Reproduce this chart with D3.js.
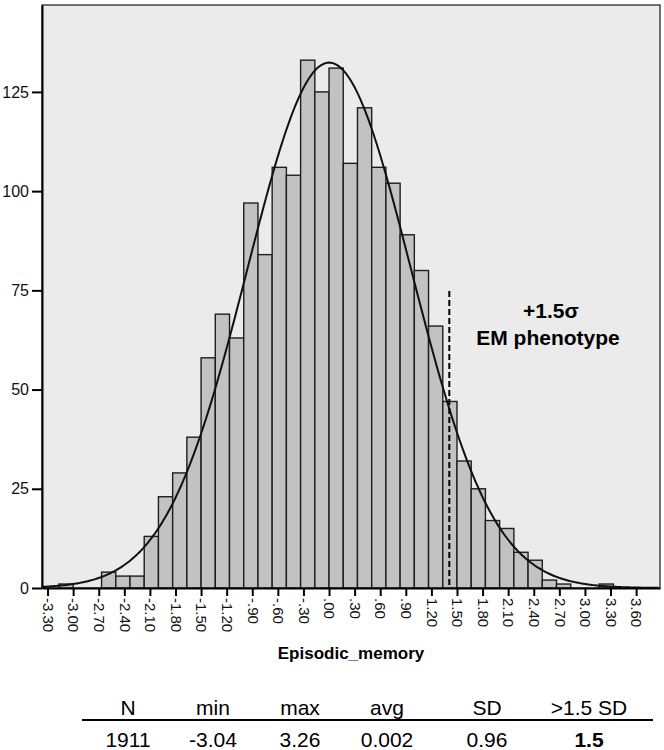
<!DOCTYPE html>
<html>
<head>
<meta charset="utf-8">
<script src="https://cdn.jsdelivr.net/npm/d3@7"></script>
<style>
  body { margin: 0; background: #fff; }
  svg { display: block; font-family: "Liberation Sans", Arial, sans-serif; }
</style>
</head>
<body>
<svg id="chart" width="664" height="750"></svg>
<script>
/**
 * Episodic memory histogram
 */

// bins are 1/6 wide, lower edges
var binLower = [-3.1667, -3.0, -2.8333, -2.6667, -2.5, -2.3333, -2.1667, -2.0, -1.8333,
  -1.6667, -1.5, -1.3333, -1.1667, -1.0, -0.8333, -0.6667, -0.5, -0.3333, -0.1667,
  0.0, 0.1667, 0.3333, 0.5, 0.6667, 0.8333, 1.0, 1.1667, 1.3333, 1.5, 1.6667,
  1.8333, 2.0, 2.1667, 2.3333, 2.5, 2.6667, 2.8333, 3.0, 3.1667];
var binWidth = 0.1667;
var counts = [1, 0, 0, 4, 3, 3, 13, 23, 29,
  38, 58, 69, 63, 97, 84, 106, 104, 133, 125,
  131, 107, 121, 106, 102, 89, 80, 66, 47, 32, 25,
  17, 15, 9, 7, 2, 1, 0, 0, 1];

var xTickValues = [-3.3, -3.0, -2.7, -2.4, -2.1, -1.8, -1.5, -1.2, -0.9, -0.6, -0.3,
  0.0, 0.3, 0.6, 0.9, 1.2, 1.5, 1.8, 2.1, 2.4, 2.7, 3.0, 3.3, 3.6];
var xTickLabels = ['-3.30', '-3.00', '-2.70', '-2.40', '-2.10', '-1.80', '-1.50', '-1.20',
  '-.90', '-.60', '-.30', '.00', '.30', '.60', '.90', '1.20', '1.50', '1.80', '2.10',
  '2.40', '2.70', '3.00', '3.30', '3.60'];
var yTickValues = [0, 25, 50, 75, 100, 125];

// summary table
var tableHeaders = ['N', 'min', 'max', 'avg', 'SD', '>1.5 SD'];
var tableValues = ['1911', '-3.04', '3.26', '0.002', '0.96', '1.5'];

// normal curve parameters (from the table)
var nTotal = 1911;
var mean = 0.002;
var sd = 0.96;
var cutoff = 1.41;

var svg = d3.select('#chart');
var plotL = 42, plotR = 660, plotT = 5, plotB = 588;

var x = d3.scaleLinear().domain([-3.365, 3.88]).range([plotL, plotR]);
var y = d3.scaleLinear().domain([0, 146.9]).range([plotB, plotT]);

svg.append('rect')
    .attr('x', plotL).attr('y', plotT)
    .attr('width', plotR - plotL).attr('height', plotB - plotT)
    .attr('fill', '#ebebeb')
    .attr('stroke', '#444')
    .attr('stroke-width', 1.5);

// bars
var bins = binLower.map(function(b, i) { return {x0: b, n: counts[i]}; })
    .filter(function(d) { return d.n > 0; });

svg.append('g').selectAll('rect')
    .data(bins)
  .enter().append('rect')
    .attr('x', function(d) { return x(d.x0); })
    .attr('y', function(d) { return y(d.n); })
    .attr('width', function(d) { return x(d.x0 + binWidth) - x(d.x0); })
    .attr('height', function(d) { return y(0) - y(d.n); })
    .attr('fill', '#c2c2c2')
    .attr('stroke', '#1e1e1e')
    .attr('stroke-width', 1.4);

// normal curve
var pdf = function(v) {
  return nTotal * binWidth * Math.exp(-0.5 * Math.pow((v - mean) / sd, 2)) / (sd * Math.sqrt(2 * Math.PI));
};
var curvePts = d3.range(-3.36, 3.88, 0.02);
svg.append('path')
    .datum(curvePts)
    .attr('fill', 'none')
    .attr('stroke', '#111')
    .attr('stroke-width', 2)
    .attr('d', d3.line()
      .x(function(d) { return x(d); })
      .y(function(d) { return y(pdf(d)); }));

// cutoff line
svg.append('line')
    .attr('x1', x(cutoff)).attr('x2', x(cutoff))
    .attr('y1', 291).attr('y2', plotB)
    .attr('stroke', '#000')
    .attr('stroke-width', 2)
    .attr('stroke-dasharray', '6,3');

svg.append('text')
    .attr('x', 551).attr('y', 318)
    .attr('text-anchor', 'middle')
    .attr('font-size', 21).attr('font-weight', 'bold')
    .text('+1.5\u03c3');
svg.append('text')
    .attr('x', 548).attr('y', 345)
    .attr('text-anchor', 'middle')
    .attr('font-size', 21).attr('font-weight', 'bold')
    .text('EM phenotype');

// axes
var yAxis = svg.append('g')
    .attr('transform', 'translate(' + plotL + ',0)')
    .call(d3.axisLeft(y).tickValues(yTickValues).tickSize(10).tickPadding(3).tickSizeOuter(0));
yAxis.select('.domain').attr('stroke', '#000').attr('stroke-width', 2);
yAxis.selectAll('.tick line').attr('stroke-width', 2);
yAxis.selectAll('.tick text').attr('font-size', 16).attr('fill', '#111');

var xAxis = svg.append('g')
    .attr('transform', 'translate(0,' + plotB + ')')
    .call(d3.axisBottom(x).tickValues(xTickValues).tickSize(8).tickSizeOuter(0)
      .tickFormat(function(d, i) { return xTickLabels[i]; }));
xAxis.select('.domain').attr('stroke', '#000').attr('stroke-width', 2);
xAxis.selectAll('.tick line').attr('stroke-width', 2);
xAxis.selectAll('.tick text')
    .attr('font-size', 15)
    .attr('fill', '#111')
    .attr('transform', 'rotate(90)')
    .attr('x', 10).attr('y', 0)
    .attr('dy', '0.35em')
    .attr('text-anchor', 'start');

svg.append('text')
    .attr('x', 351).attr('y', 659)
    .attr('text-anchor', 'middle')
    .attr('font-size', 17).attr('font-weight', 'bold')
    .text('Episodic_memory');

// table
var colX = [128, 213, 300, 387, 487, 589];
svg.append('g').selectAll('text')
    .data(tableHeaders)
  .enter().append('text')
    .attr('x', function(d, i) { return colX[i]; })
    .attr('y', 715)
    .attr('text-anchor', 'middle')
    .attr('font-size', 21)
    .text(function(d) { return d; });

svg.append('line')
    .attr('x1', 82).attr('x2', 653)
    .attr('y1', 720).attr('y2', 720)
    .attr('stroke', '#000').attr('stroke-width', 2);

svg.append('g').selectAll('text')
    .data(tableValues)
  .enter().append('text')
    .attr('x', function(d, i) { return colX[i]; })
    .attr('y', 747)
    .attr('text-anchor', 'middle')
    .attr('font-size', 21)
    .attr('font-weight', function(d, i) { return i === 5 ? 'bold' : 'normal'; })
    .text(function(d) { return d; });
</script>
</body>
</html>
